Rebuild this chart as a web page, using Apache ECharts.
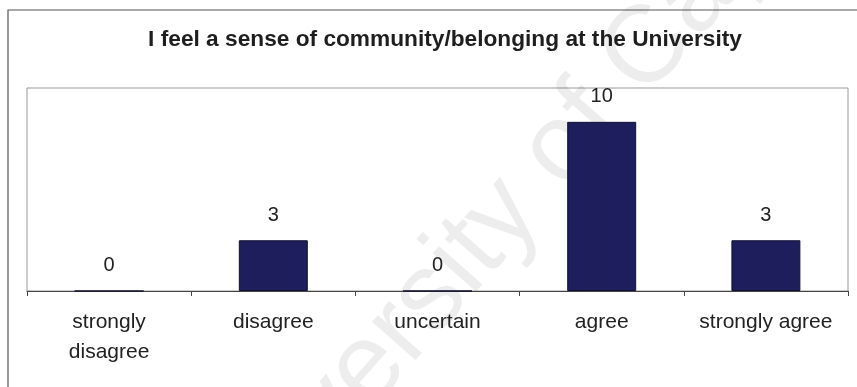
<!DOCTYPE html>
<html><head><meta charset="utf-8">
<script src="https://cdn.jsdelivr.net/npm/echarts@6/dist/echarts.min.js"></script>
<style>html,body{margin:0;padding:0;background:#fff}#c{width:857px;height:387px}</style>
</head><body><div id="c"></div>
<script>
const categories = ['strongly\ndisagree', 'disagree', 'uncertain', 'agree', 'strongly agree'];
const values = [0, 3, 0, 10, 3];
const titleText = 'I feel a sense of community/belonging at the University';
const watermarkText = 'University of Cape Town';

const chart = echarts.init(document.getElementById('c'), null, {renderer: 'canvas'});
chart.setOption({
  animation: false,
  backgroundColor: '#fff',
  title: {
    text: titleText, left: 440, top: 23, textAlign: 'center',
    textStyle: {fontFamily: 'Liberation Sans, Arial', fontSize: 22.7, fontWeight: 'bold', color: '#1e1e1e'}
  },
  graphic: [
    {type: 'rect', shape: {x: 8, y: 10, width: 900, height: 420}, style: {fill: 'none', stroke: '#555', lineWidth: 1.2}, z: 0},
    {type: 'text', x: 594, y: 112, rotation: 48.6 * Math.PI / 180, z: 0,
     style: {text: watermarkText, fontFamily: 'Liberation Sans, Arial', fontSize: 110, fill: 'rgba(0,0,0,0.07)', align: 'center', verticalAlign: 'middle'}}
  ],
  grid: {left: 27, right: 9, top: 88, bottom: 96, show: true, borderColor: '#999', borderWidth: 1, backgroundColor: 'transparent'},
  xAxis: {
    type: 'category', data: categories,
    axisLine: {lineStyle: {color: '#444', width: 1}},
    axisTick: {show: true, length: 5, lineStyle: {color: '#444'}},
    axisLabel: {fontFamily: 'Liberation Sans, Arial', fontSize: 21, color: '#222', margin: 16, lineHeight: 30, interval: 0}
  },
  yAxis: {type: 'value', min: 0, max: 12, show: false, splitLine: {show: false}},
  series: [{
    type: 'bar', data: values, barWidth: '42%',
    itemStyle: {color: '#1e1e5c', borderColor: '#111133', borderWidth: 1},
    label: {show: true, position: 'top', distance: 15, fontFamily: 'Liberation Sans, Arial', fontSize: 20, color: '#222'}
  }]
});
</script></body></html>
